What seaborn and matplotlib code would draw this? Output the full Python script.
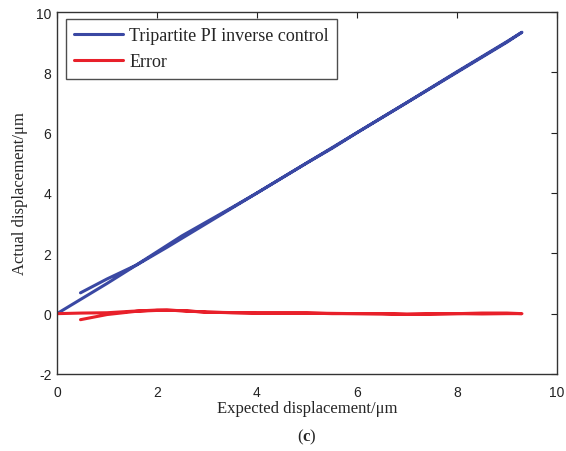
import numpy as np
import pandas as pd
import matplotlib
matplotlib.use("Agg")
import matplotlib.pyplot as plt
import seaborn as sns
from matplotlib.lines import Line2D

# Ascending branch
exp_up = [0.0, 0.5, 1.0, 1.5, 2.0, 2.5, 3.0, 3.5, 4.0, 4.5, 5.0, 5.5, 6.0, 6.5, 7.0, 7.5, 8.0, 8.5, 9.0, 9.3]
act_up = [0.0, 0.5, 1.0, 1.52, 2.05, 2.58, 3.05, 3.52, 4.0, 4.5, 5.0, 5.48, 6.0, 6.5, 7.0, 7.5, 8.0, 8.5, 9.0, 9.33]
err_up = [0.0, 0.02, 0.03, 0.08, 0.12, 0.1, 0.05, 0.03, 0.02, 0.02, 0.02, 0.0, 0.0, 0.0, -0.02, -0.01, 0.0, -0.01, 0.0, 0.0]
# Descending branch
exp_dn = [9.3, 9.0, 8.5, 8.0, 7.0, 6.0, 5.0, 4.0, 3.0, 2.2, 1.6, 1.0, 0.47]
act_dn = [9.33, 9.02, 8.52, 8.02, 7.0, 6.0, 5.0, 4.0, 3.0, 2.2, 1.62, 1.15, 0.69]
err_dn = [0.0, 0.02, 0.02, 0.0, -0.02, 0.0, 0.02, 0.02, 0.05, 0.12, 0.08, -0.03, -0.2]

labels = ["Tripartite PI inverse control", "Error"]

sns.set_style("white")
plt.rcParams["font.family"] = ["Liberation Sans", "DejaVu Sans"]
plt.rcParams["axes.unicode_minus"] = False
plt.rcParams["mathtext.fontset"] = "custom"
plt.rcParams["mathtext.bf"] = "Liberation Serif:bold"
plt.rcParams["mathtext.rm"] = "Liberation Serif"

x_all = exp_up + exp_dn
df = pd.DataFrame({
    "x": x_all * 2,
    "y": act_up + act_dn + err_up + err_dn,
    "series": [labels[0]] * len(x_all) + [labels[1]] * len(x_all),
})

fig = plt.figure(figsize=(5.66, 4.52), dpi=100)
ax = fig.add_axes([0.1007, 0.1704, 0.8833, 0.8008])

sns.lineplot(data=df, x="x", y="y", hue="series", units="series", estimator=None,
             sort=False, palette=["#3a48a3", "#e8202a"], linewidth=2.2, ax=ax,
             legend=False)

ax.set_xlim(0, 10)
ax.set_ylim(-2, 10)
ax.set_xticks(range(0, 11, 2))
ax.set_yticks(range(-2, 11, 2))
ax.tick_params(direction="in", top=True, right=True, length=4, width=0.8,
               labelsize=10, colors="#222222", pad=4)
ax.tick_params(axis="x", pad=8)
for s in ax.spines.values():
    s.set_color("#333333")
    s.set_linewidth(1.0)

serif = ["Liberation Serif", "DejaVu Serif"]
ax.set_xlabel("Expected displacement/μm", fontsize=12, family=serif, labelpad=1)
ax.set_ylabel("Actual displacement/μm", fontsize=12, family=serif, labelpad=6)

handles = [Line2D([], [], color="#3a48a3", lw=2.2), Line2D([], [], color="#e8202a", lw=2.2)]
leg = ax.legend(handles, labels, loc="upper left", bbox_to_anchor=(0.018, 0.98),
                prop={"family": serif, "size": 13}, frameon=True, fancybox=False,
                edgecolor="#222222", handlelength=2.7, borderpad=0.45, labelspacing=0.5,
                handletextpad=0.35, borderaxespad=0)
leg.get_frame().set_linewidth(1.0)

fig.text(0.5 * (0.1007 + 0.984), 1 - 437 / 452, r"($\mathbf{c}$)", ha="center", va="center",
         fontsize=12, family=serif)

fig.savefig("out.png", dpi=100)
